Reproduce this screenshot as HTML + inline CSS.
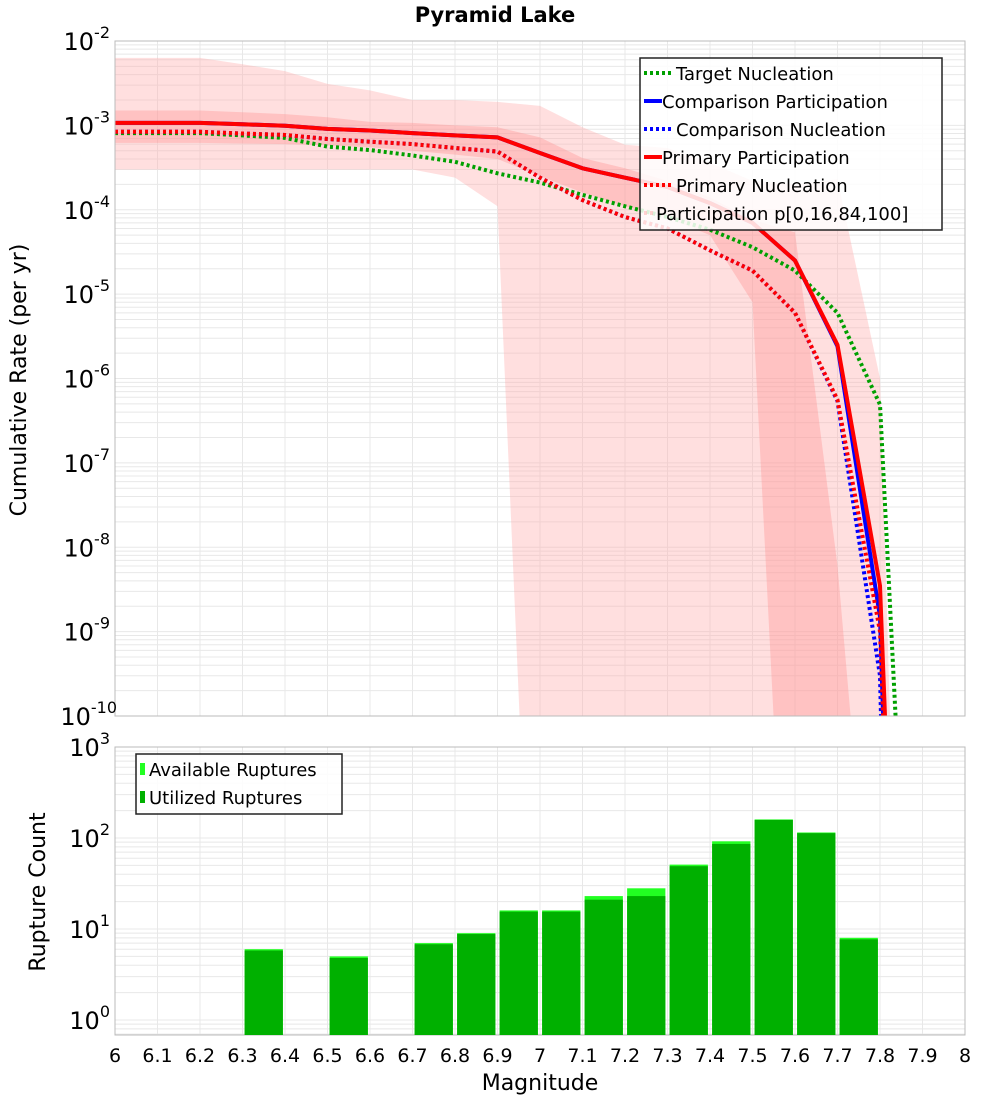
<!DOCTYPE html>
<html><head><meta charset="utf-8"><style>
html,body{margin:0;padding:0;background:#fff;overflow:hidden}
svg{display:block;font-family:"DejaVu Sans","Liberation Sans",sans-serif;overflow:hidden}
</style></head><body>
<svg id="c" width="1000" height="1100" xmlns="http://www.w3.org/2000/svg"></svg>
<script>
// ---------- data ----------
const mags = [6.0,6.1,6.2,6.3,6.4,6.5,6.6,6.7,6.8,6.9,7.0,7.1,7.2,7.3,7.4,7.5,7.6,7.7,7.8,7.9];
const primaryPart = [1.07e-3,1.07e-3,1.07e-3,1.03e-3,9.9e-4,9.1e-4,8.7e-4,8.1e-4,7.6e-4,7.2e-4,4.7e-4,3.1e-4,2.4e-4,1.86e-4,1.2e-4,7e-5,2.5e-5,2.5e-6,3.5e-9,2.5e-22];
const compPart    = [1.07e-3,1.07e-3,1.07e-3,1.03e-3,9.9e-4,9.1e-4,8.7e-4,8.1e-4,7.6e-4,7.2e-4,4.7e-4,3.1e-4,2.4e-4,1.86e-4,1.2e-4,7e-5,2.5e-5,2.4e-6,1.5e-9,1e-25];
const primaryNucl = [8.4e-4,8.4e-4,8.4e-4,8.0e-4,7.7e-4,6.9e-4,6.4e-4,6.0e-4,5.4e-4,4.9e-4,2.4e-4,1.3e-4,8.2e-5,6e-5,3.3e-5,1.9e-5,6e-6,5.6e-7,1e-9,1.5e-23];
const compNucl    = [8.4e-4,8.4e-4,8.4e-4,8.0e-4,7.7e-4,6.9e-4,6.4e-4,6.0e-4,5.4e-4,4.9e-4,2.4e-4,1.3e-4,8.2e-5,6e-5,3.3e-5,1.9e-5,6e-6,5.4e-7,3e-10,1e-30];
const targetNucl  = [8.1e-4,8.1e-4,8.1e-4,7.6e-4,7.1e-4,5.6e-4,5.1e-4,4.4e-4,3.7e-4,2.7e-4,2.1e-4,1.5e-4,1.1e-4,8.2e-5,5.8e-5,3.6e-5,1.9e-5,6e-6,4.9e-7,4e-17];
const p100 = [6.3e-3,6.3e-3,6.3e-3,5.3e-3,4.4e-3,3.1e-3,2.6e-3,2.0e-3,2.0e-3,1.9e-3,1.7e-3,9.5e-4,5.9e-4,5.4e-4,3.6e-4,2.2e-4,2.0e-4,2.3e-4,1e-6,1e-23];
const p84  = [1.5e-3,1.5e-3,1.5e-3,1.43e-3,1.36e-3,1.25e-3,1.1e-3,1.07e-3,1.0e-3,9.5e-4,7.2e-4,4.1e-4,3.1e-4,2.2e-4,1.4e-4,7.6e-5,5.4e-5,6e-9,1e-14,1e-20];
const p16  = [6.2e-4,6.2e-4,6.2e-4,6.1e-4,6.0e-4,5.8e-4,5.5e-4,5.0e-4,4.5e-4,4.0e-4,2.5e-4,1.6e-4,1.1e-4,8e-5,5e-5,8e-6,1e-15,1e-20,1e-20,1e-20];
const p0   = [3e-4,3e-4,3e-4,3e-4,3e-4,3e-4,3e-4,3e-4,2.4e-4,1.1e-4,2.5e-16,1e-20,1e-20,1e-20,1e-20,1e-20,1e-20,1e-20,1e-20,1e-20];
const binCenters = [6.35,6.55,6.75,6.85,6.95,7.05,7.15,7.25,7.35,7.45,7.55,7.65,7.75];
const available  = [6,5,7,9,16,16,23,28,51,92,160,115,8];
const utilized   = [5.8,4.8,6.8,8.8,15.5,15.5,21,23,49,86,158,113,7.7];
const xTicks = ["6","6.1","6.2","6.3","6.4","6.5","6.6","6.7","6.8","6.9","7","7.1","7.2","7.3","7.4","7.5","7.6","7.7","7.8","7.9","8"];

// ---------- layout ----------
const NS="http://www.w3.org/2000/svg";
const svg=document.getElementById('c');
const L=115,R=965;
const T1=41,B1=716, T2=747,B2=1035;
const X=m=>L+(m-6)*(R-L)/2;
const Y1=v=>T1+(-2-Math.log10(v))*(B1-T1)/8;
const lmin2=-15/91;
const Y2=v=>T2+(3-Math.log10(v))*(B2-T2)/(3-lmin2);
function el(tag,attrs,parent){const e=document.createElementNS(NS,tag);for(const k in attrs)e.setAttribute(k,attrs[k]);(parent||svg).appendChild(e);return e;}

const defs=el('defs',{});
const cp1=el('clipPath',{id:'cp1'},defs);el('rect',{x:L,y:T1,width:R-L,height:B1-T1},cp1);
const cp2=el('clipPath',{id:'cp2'},defs);el('rect',{x:L,y:T2,width:R-L,height:B2-T2},cp2);

// title
const title=el('text',{x:495,y:22,'text-anchor':'middle','font-size':21,'font-weight':'bold'});
title.textContent='Pyramid Lake';



// grids
function grid(T,B,Yf,dmin,dmax,name){
  const g=el('g',{stroke:'#e8e8e8','stroke-width':1});
  
  
  for(let i=0;i<=20;i++){const x=X(6+i*0.1);el('line',{x1:x,x2:x,y1:T,y2:B},g);}
  for(let d=dmin;d<dmax;d++){for(let k=1;k<10;k++){const y=Yf(k*Math.pow(10,d));if(y>=T&&y<=B)el('line',{x1:L,x2:R,y1:y,y2:y},g);}}
}
grid(T1,B1,Y1,-10,-2,'top-grid');
grid(T2,B2,Y2,-1,3,'bottom-grid');

// bands
const plot1=el('g',{'clip-path':'url(#cp1)'});


function band(up,lo,fill,name){
  let pts=[];
  for(let i=0;i<mags.length;i++)pts.push(X(mags[i])+','+Y1(up[i]));
  for(let i=mags.length-1;i>=0;i--)pts.push(X(mags[i])+','+Y1(lo[i]));
  const p=el('polygon',{points:pts.join(' '),fill:fill},plot1);
  
  
}
band(p100,p0,'rgba(255,170,170,0.38)','band-p0-p100');
band(p84,p16,'rgba(255,140,140,0.35)','band-p16-p84');

function line(vals,color,dash,name){
  const d=vals.map((v,i)=>(i?'L':'M')+X(mags[i])+','+Y1(v)).join(' ');
  const p=el('path',{d:d,fill:'none',stroke:color,'stroke-width':4,'stroke-dasharray':dash?'3,3':'none','stroke-linejoin':'round'},plot1);
  
  
}
line(targetNucl,'#00a000',true,'target-nucleation-line');
line(compPart,'#0000ff',false,'comparison-participation-line');
line(compNucl,'#0000ff',true,'comparison-nucleation-line');
line(primaryPart,'#ff0000',false,'primary-participation-line');
line(primaryNucl,'#ff0000',true,'primary-nucleation-line');

// axes frames
const f1=el('rect',{x:L,y:T1,width:R-L,height:B1-T1,fill:'none',stroke:'#bbb','stroke-width':1});


const f2=el('rect',{x:L,y:T2,width:R-L,height:B2-T2,fill:'none',stroke:'#bbb','stroke-width':1});



// y tick labels
function powLabel(x,y,exp,name){
  const t=el('text',{x:x,y:y,'text-anchor':'end','font-size':24});
  
  
  const a=el('tspan',{},t);a.textContent='10';
  const b=el('tspan',{dy:-12,'font-size':16},t);b.textContent=String(exp);
}
for(let e=-2;e>=-10;e--){powLabel(e===-10?117:110,Y1(Math.pow(10,e))+9,e,'y-tick-label');}
for(let e=3;e>=0;e--){powLabel(110,Y2(Math.pow(10,e))+9,e,'y2-tick-label');}

// y titles
const yt=el('text',{x:0,y:0,'text-anchor':'middle','font-size':22,transform:'translate(26,380) rotate(-90)'});
yt.textContent='Cumulative Rate (per yr)';


const yt2=el('text',{x:0,y:0,'text-anchor':'middle','font-size':22,transform:'translate(45,892) rotate(-90)'});
yt2.textContent='Rupture Count';



// bars
const plot2=el('g',{'clip-path':'url(#cp2)'});


for(let i=0;i<binCenters.length;i++){
  const x0=X(binCenters[i]-0.045),x1=X(binCenters[i]+0.045);
  const ra=el('rect',{x:x0,y:Y2(available[i]),width:x1-x0,height:B2-Y2(available[i]),fill:'#22ff22'},plot2);
  
  
  const ru=el('rect',{x:x0,y:Y2(utilized[i]),width:x1-x0,height:B2-Y2(utilized[i]),fill:'#00b000'},plot2);
  
  
}

// x ticks
for(let i=0;i<xTicks.length;i++){
  const t=el('text',{x:X(6+i*0.1),y:1062,'text-anchor':'middle','font-size':19});
  t.textContent=xTicks[i];
  
  
}
const xt=el('text',{x:540,y:1090,'text-anchor':'middle','font-size':22});
xt.textContent='Magnitude';



// legends
function legend(x,y,w,h,items,name){
  const g=el('g',{});
  
  
  el('rect',{x:x,y:y,width:w,height:h,fill:'rgba(255,255,255,0.85)',stroke:'#222','stroke-width':1.5},g);
  items.forEach((it,i)=>{
    const cy=y+15+i*28;
    const e=el('g',{},g);
    
    
    if(it.type==='line')el('line',{x1:x+4,x2:x+4+it.len,y1:cy,y2:cy,stroke:it.color,'stroke-width':4,'stroke-dasharray':it.dash?'3,3':'none'},e);
    else if(it.type==='box')el('rect',{x:x+4,y:cy-6,width:5,height:12,fill:it.color},e);
    const t=el('text',{x:x+it.tx,y:cy+7,'font-size':18},e);
    t.textContent=it.label;
  });
}
legend(640,58,302,172,[
  {type:'line',color:'#00a000',dash:true,len:28,tx:36,label:'Target Nucleation'},
  {type:'line',color:'#0000ff',dash:false,len:18,tx:22,label:'Comparison Participation'},
  {type:'line',color:'#0000ff',dash:true,len:28,tx:36,label:'Comparison Nucleation'},
  {type:'line',color:'#ff0000',dash:false,len:18,tx:22,label:'Primary Participation'},
  {type:'line',color:'#ff0000',dash:true,len:28,tx:36,label:'Primary Nucleation'},
  {type:'line',color:'rgba(255,170,170,0.5)',dash:true,len:10,tx:16,label:'Participation p[0,16,84,100]'}
],'top-legend');
legend(136,754,206,60,[
  {type:'box',color:'#22ff22',tx:13,label:'Available Ruptures'},
  {type:'box',color:'#00b000',tx:13,label:'Utilized Ruptures'}
],'bottom-legend');
</script>
</body></html>
